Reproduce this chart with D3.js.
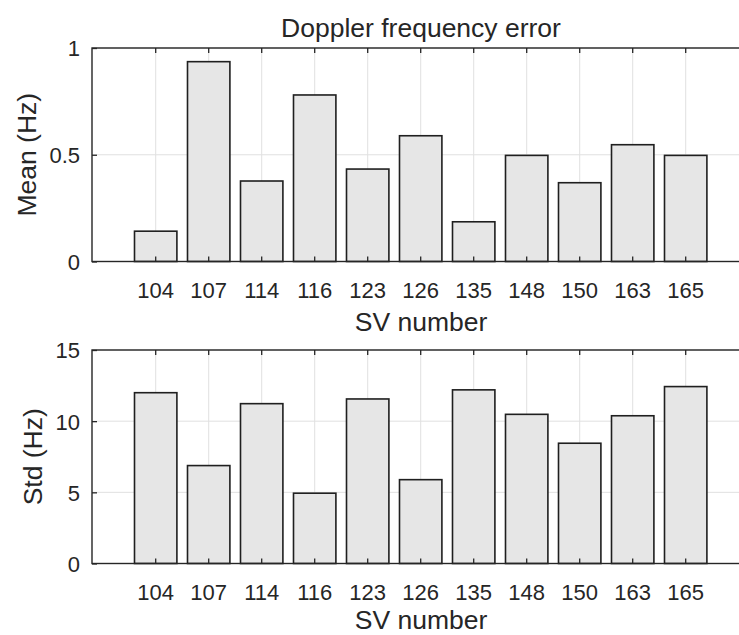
<!DOCTYPE html>
<head>
  <meta charset="utf-8">
  <title>Doppler frequency error</title>
  <style>
    body { margin: 0; background: #fff; }
    text { font-family: "Liberation Sans", Arial, sans-serif; fill: #262626; }
  </style>
</head>
<body>
<script src="https://d3js.org/d3.v7.min.js"></script>
<script>
// SV numbers and the two series
var svNumbers = ["104", "107", "114", "116", "123", "126", "135", "148", "150", "163", "165"];
var meanHz = [0.142, 0.936, 0.377, 0.78, 0.433, 0.589, 0.186, 0.497, 0.369, 0.547, 0.497];
var stdHz = [12.0, 6.88, 11.23, 4.94, 11.56, 5.89, 12.2, 10.48, 8.45, 10.38, 12.43];
var meanTicks = [0, 0.5, 1];
var stdTicks = [0, 5, 10, 15];

var W = 739, H = 635;
var left = 92, right = 750;   // right edge of the box falls outside the picture
var panelH = 213.5;

var svg = d3.select("body").append("svg")
    .attr("width", W)
    .attr("height", H);

// category positions (same for both panels)
var x = d3.scaleBand()
    .domain(svNumbers)
    .range([129.2, 712.2])
    .paddingInner(0.2)
    .paddingOuter(0.1);

function panel(values, domain, ticks, top, label, tickFmt, labelX, xLabelY) {
  var g = svg.append("g").attr("transform", "translate(0," + top + ")");
  var y = d3.scaleLinear().domain(domain).range([panelH, 0]);

  // grid
  g.append("g")
      .selectAll("line.vg")
      .data(svNumbers)
    .enter().append("line")
      .attr("x1", d => x(d) + x.bandwidth() / 2)
      .attr("x2", d => x(d) + x.bandwidth() / 2)
      .attr("y1", 0).attr("y2", panelH)
      .attr("stroke", "#e0e0e0").attr("stroke-width", 1);
  g.append("g")
      .selectAll("line.hg")
      .data(ticks)
    .enter().append("line")
      .attr("x1", left).attr("x2", right)
      .attr("y1", d => y(d)).attr("y2", d => y(d))
      .attr("stroke", "#e0e0e0").attr("stroke-width", 1);

  // bars
  g.append("g")
      .selectAll("rect")
      .data(values)
    .enter().append("rect")
      .attr("x", (d, i) => x(svNumbers[i]))
      .attr("width", x.bandwidth())
      .attr("y", d => y(d))
      .attr("height", d => y(0) - y(d))
      .attr("fill", "#e6e6e6")
      .attr("stroke", "#1f1f1f")
      .attr("stroke-width", 1.6);

  // box
  g.append("rect")
      .attr("x", left).attr("y", 0)
      .attr("width", right - left).attr("height", panelH)
      .attr("fill", "none")
      .attr("stroke", "#262626").attr("stroke-width", 1.4);

  // x ticks (inward, top and bottom) and labels
  var xb = g.append("g")
      .attr("transform", "translate(0," + panelH + ")")
      .call(d3.axisBottom(x).tickSize(-5).tickSizeOuter(0));
  xb.select(".domain").remove();
  xb.selectAll("line").attr("stroke", "#262626").attr("stroke-width", 1.3);
  xb.selectAll("text")
      .attr("y", 36.5).attr("dy", null)
      .style("font-size", "22px")
      .style("fill", "#262626");

  var xt = g.append("g")
      .call(d3.axisTop(x).tickSize(-5).tickSizeOuter(0).tickFormat(""));
  xt.select(".domain").remove();
  xt.selectAll("line").attr("stroke", "#262626").attr("stroke-width", 1.3);

  // y ticks and labels
  var ya = g.append("g")
      .attr("transform", "translate(" + left + ",0)")
      .call(d3.axisLeft(y).tickValues(ticks).tickSize(-5).tickSizeOuter(0).tickFormat(tickFmt));
  ya.select(".domain").remove();
  ya.selectAll("line").attr("stroke", "#262626").attr("stroke-width", 1.3);
  ya.selectAll("text")
      .attr("x", -12).attr("dy", "0.36em")
      .style("font-size", "22px")
      .style("fill", "#262626");

  // axis labels
  g.append("text")
      .attr("x", 421).attr("y", panelH + xLabelY)
      .attr("text-anchor", "middle")
      .style("font-size", "26.5px")
      .text("SV number");
  g.append("text")
      .attr("transform", "translate(" + labelX + "," + (panelH / 2) + ") rotate(-90)")
      .attr("text-anchor", "middle")
      .style("font-size", "26.5px")
      .text(label);
  return g;
}

panel(meanHz, [0, 1], meanTicks, 48, "Mean (Hz)", d3.format("~g"), 36, 69.5);
panel(stdHz, [0, 15], stdTicks, 350, "Std (Hz)", d3.format("d"), 42, 65.5);

svg.append("text")
    .attr("x", 421).attr("y", 37)
    .attr("text-anchor", "middle")
    .style("font-size", "26.5px")
    .text("Doppler frequency error");
</script>
</body>
